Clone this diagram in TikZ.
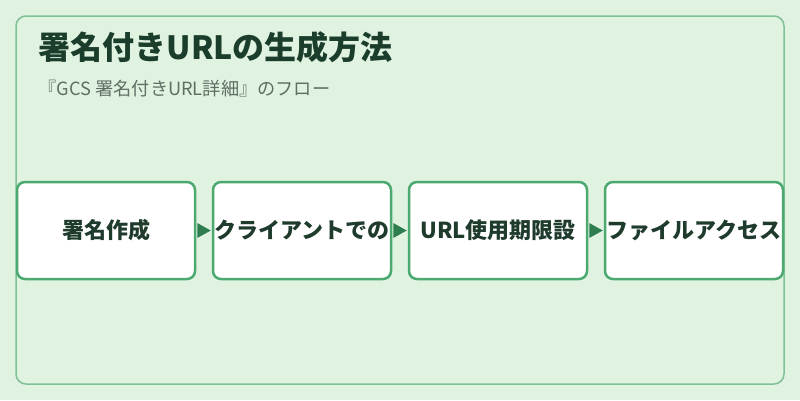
\documentclass[tikz,border=0pt]{standalone}
\usepackage{fontspec}
\newfontfamily\cjk{Noto Sans CJK JP}
\usetikzlibrary{positioning,calc}
\definecolor{bg}{HTML}{E0F2E0}
\definecolor{frame}{HTML}{80C096}
\definecolor{boxline}{HTML}{4CAA70}
\definecolor{arrowc}{HTML}{2E7D4F}
\definecolor{titlec}{HTML}{1B3D2B}
\definecolor{subc}{HTML}{5F6F64}
\definecolor{textc}{HTML}{1E3B2C}
\tikzset{
  stepbox/.style={draw=boxline, line width=2.5pt, fill=white, rounded corners=8pt,
    minimum width=178pt, minimum height=97pt, inner sep=0pt,
    font=\cjk\bfseries\fontsize{22pt}{26pt}\selectfont, text=textc},
  tri/.style={fill=arrowc, draw=none},
}
\begin{document}
\begin{tikzpicture}[x=1pt,y=-1pt]
\useasboundingbox[fill=bg] (0,0) rectangle (800,400);
\draw[frame, line width=1.5pt, fill=bg, rounded corners=10pt] (16,16) rectangle (784,384);
\node[anchor=west, inner sep=0pt, text=titlec, font=\cjk\bfseries\fontsize{32pt}{36pt}\selectfont] (title) at (38.5,47.5) {署名付きURLの生成方法};
\node[anchor=west, inner sep=0pt, text=subc, font=\cjk\fontsize{18.2pt}{21pt}\selectfont] (sub) at (38.5,88.5) {『GCS 署名付きURL詳細』のフロー};
\node[stepbox] (s1) at (106,230.5) {署名作成};
\node[stepbox] (s2) at (302,230.5) {クライアントでの};
\node[stepbox] (s3) at (498,230.5) {URL使用期限設};
\node[stepbox] (s4) at (694,230.5) {ファイルアクセス};
\foreach \a/\b in {s1/s2,s2/s3,s3/s4}{
  \path[tri] ($(\a.east)+(1,-7.5)$) -- ($(\b.west)+(-1,0)$) -- ($(\a.east)+(1,7.5)$) -- cycle;
}
\end{tikzpicture}
\end{document}
